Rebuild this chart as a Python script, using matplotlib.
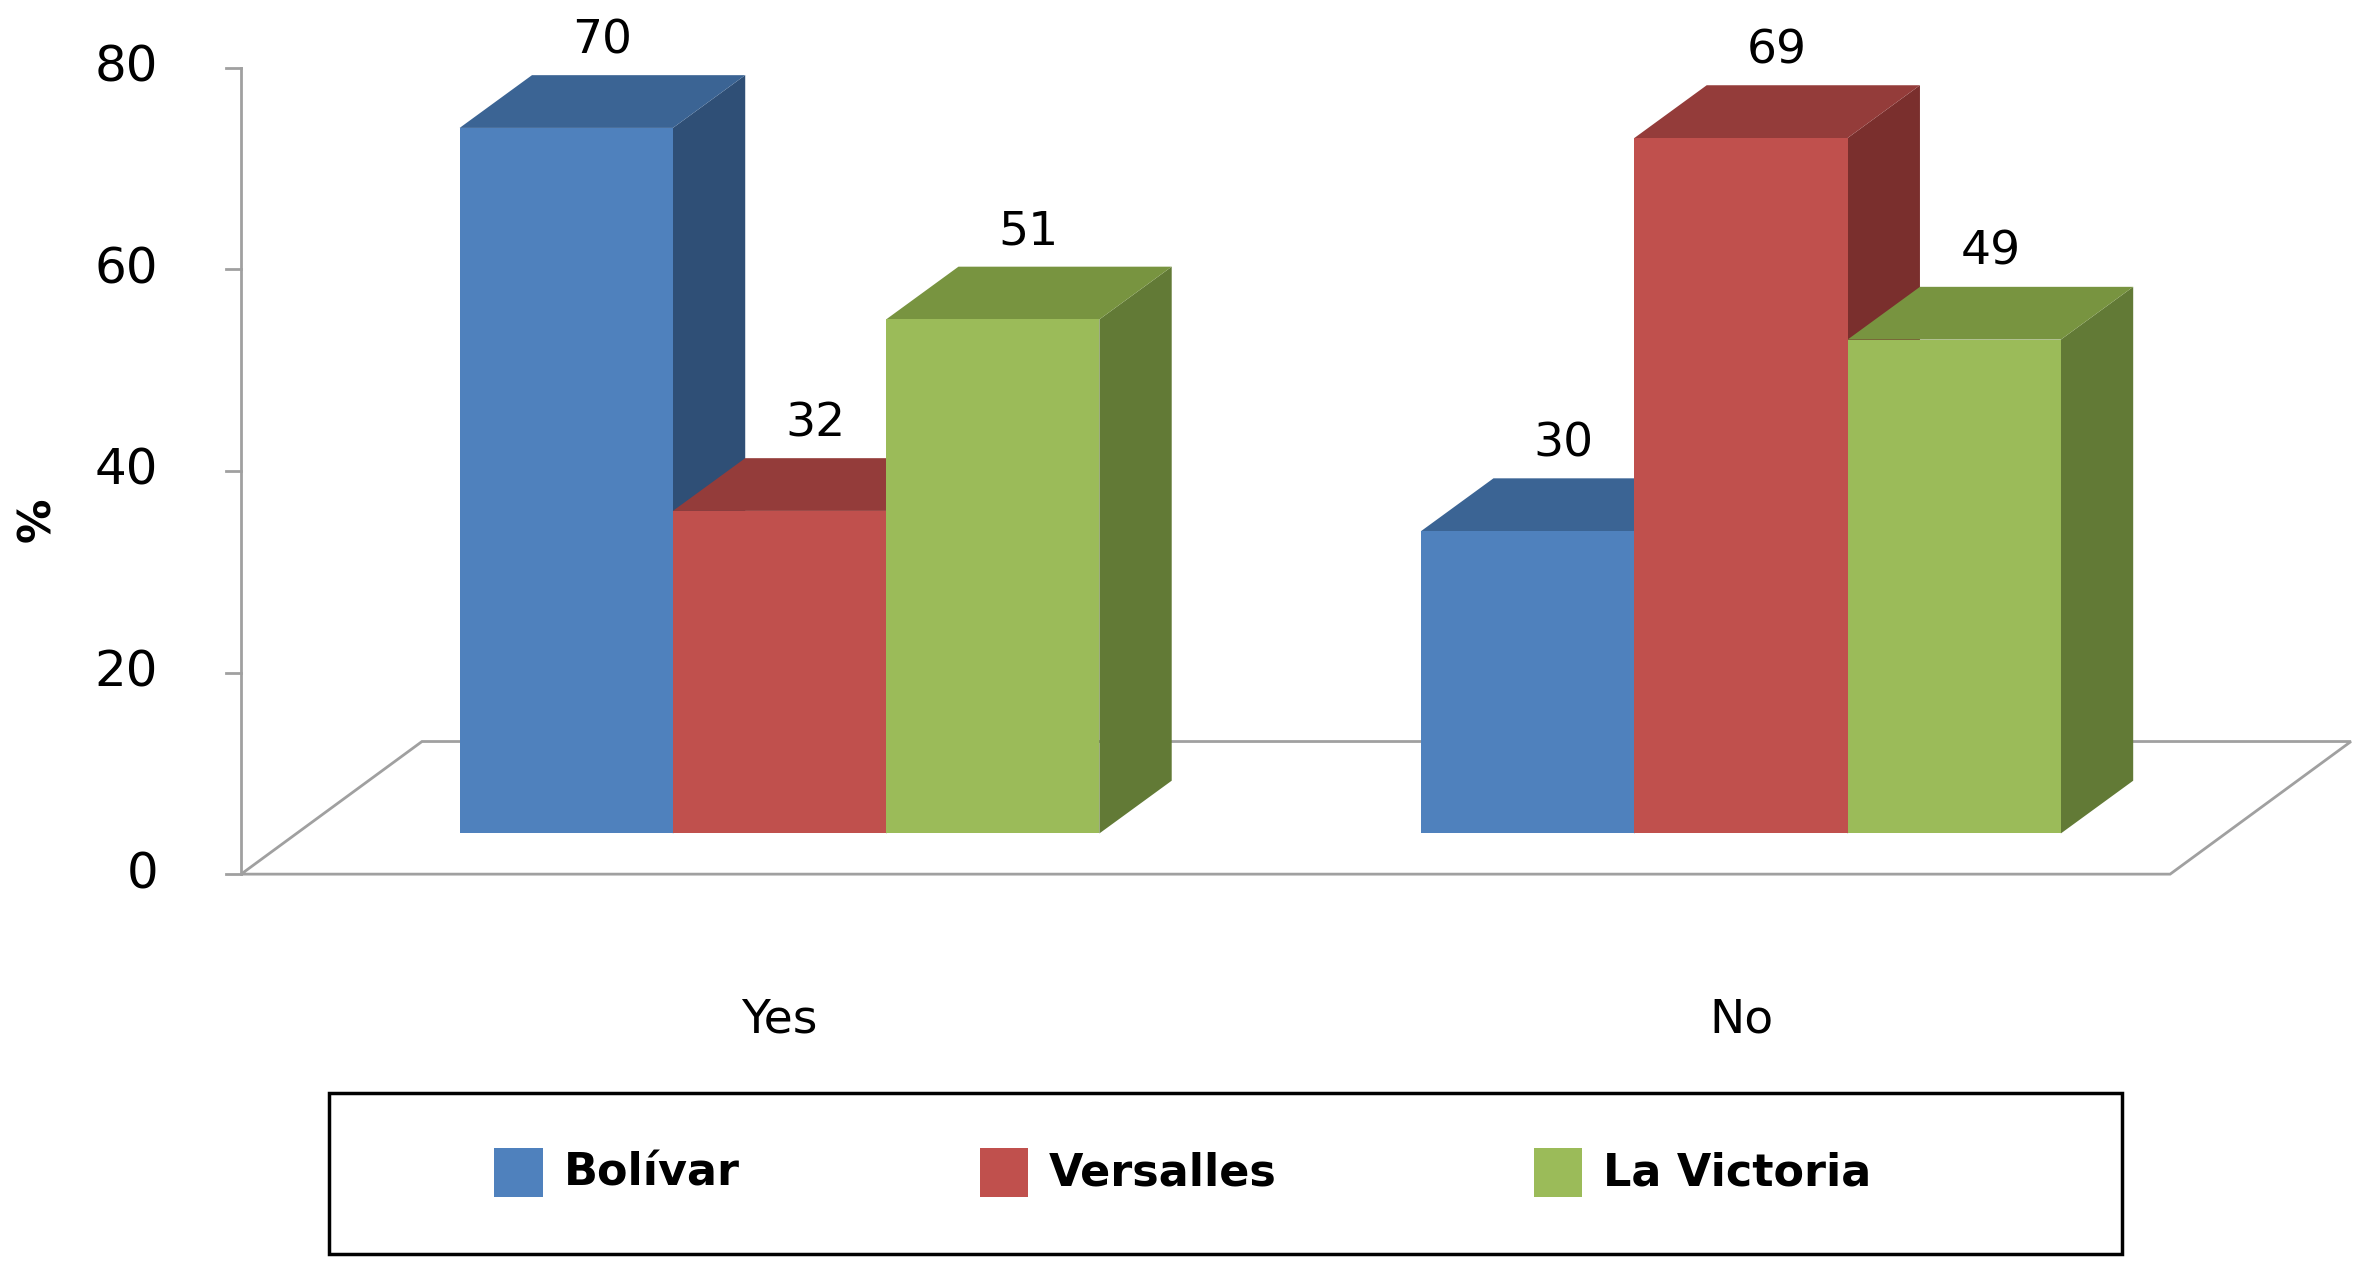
import matplotlib
matplotlib.use("Agg")
import matplotlib.pyplot as plt
from matplotlib.patches import Polygon, Rectangle

categories = ["Yes", "No"]
series = ["Bolívar", "Versalles", "La Victoria"]
values = {"Bolívar": [70, 30], "Versalles": [32, 69], "La Victoria": [51, 49]}
yticks = [0, 20, 40, 60, 80]

front = ["#4F81BD", "#C0504D", "#9BBB59"]
top = ["#3B6494", "#943C3A", "#789440"]
side = ["#2F4F76", "#7A2F2D", "#627A36"]

fig = plt.figure(figsize=(23.6, 12.66), dpi=100)
ax = fig.add_axes([0, 0, 1, 1])
ax.set_xlim(0, 1566); ax.set_ylim(840, 0); ax.axis("off")

scale = (580 - 45) / 80.0
def ypos(v, base=580):
    return base - v * scale

dx, dy = 48, -35
# floor
ax.add_patch(Polygon([(160, 580), (160 + 120, 492), (1560, 492), (1440, 580)],
                     closed=True, facecolor="white", edgecolor="#A0A0A0", lw=2, zorder=1))
# y axis
ax.plot([160, 160], [ypos(80), 580], color="#A0A0A0", lw=2, zorder=2)
for t in yticks:
    ax.plot([150, 160], [ypos(t), ypos(t)], color="#A0A0A0", lw=2)
    ax.text(105, ypos(t), str(t), ha="right", va="center", fontsize=36, family="DejaVu Sans")
ax.text(25, 345, "%", rotation=90, ha="center", va="center", fontsize=32, fontweight="bold")

group_left = [305, 943]
bw = 141.5
base = 553
for gi, cat in enumerate(categories):
    for si, s in enumerate(series):
        v = values[s][gi]
        x0 = group_left[gi] + si * bw
        x1 = x0 + bw
        yt = ypos(v, base)
        ax.add_patch(Polygon([(x1, base), (x1 + dx, base + dy), (x1 + dx, yt + dy), (x1, yt)],
                             closed=True, facecolor=side[si], edgecolor="none", zorder=3 + si))
        ax.add_patch(Polygon([(x0, yt), (x0 + dx, yt + dy), (x1 + dx, yt + dy), (x1, yt)],
                             closed=True, facecolor=top[si], edgecolor="none", zorder=3 + si))
        ax.add_patch(Rectangle((x0, yt), bw, base - yt, facecolor=front[si], edgecolor="none", zorder=3 + si))
        ax.text((x0 + x1) / 2 + dx / 2, yt + dy - 8, str(v), ha="center", va="bottom",
                fontsize=34, zorder=10)
    ax.text(group_left[gi] + 1.5 * bw + dx / 2 - 24, 677, cat, ha="center", va="center", fontsize=34)

# legend
ax.add_patch(Rectangle((218, 725), 1190, 107, facecolor="white", edgecolor="black", lw=2.5))
lx = [328, 650, 1018]
for i, s in enumerate(series):
    ax.add_patch(Rectangle((lx[i], 762), 32, 32, facecolor=front[i], edgecolor="none"))
    ax.text(lx[i] + 46, 778, s, ha="left", va="center", fontsize=32, fontweight="bold")

fig.savefig("out.png", dpi=100)
